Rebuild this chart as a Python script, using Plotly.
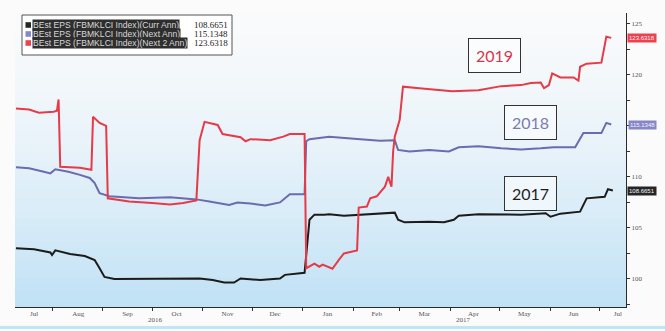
import plotly.graph_objects as go

# ---------------- data ----------------
red_dates = ["2016-07-10", "2016-07-18", "2016-07-24", "2016-08-02", "2016-08-04", "2016-08-05",
             "2016-08-06", "2016-08-18", "2016-08-25", "2016-08-26", "2016-08-30", "2016-09-03",
             "2016-09-04", "2016-09-17", "2016-10-01", "2016-10-12", "2016-10-20", "2016-10-28",
             "2016-10-30", "2016-11-02", "2016-11-10", "2016-11-13", "2016-11-24", "2016-11-27",
             "2016-11-30", "2016-12-12", "2016-12-20", "2016-12-24", "2017-01-02", "2017-01-03",
             "2017-01-08", "2017-01-11", "2017-01-13", "2017-01-19", "2017-01-23", "2017-01-26",
             "2017-02-03", "2017-02-04", "2017-02-09", "2017-02-11", "2017-02-15", "2017-02-20",
             "2017-02-22", "2017-02-24", "2017-02-25", "2017-02-26", "2017-03-01", "2017-03-03",
             "2017-03-13", "2017-03-25", "2017-04-02", "2017-04-18", "2017-05-02", "2017-05-14",
             "2017-05-20", "2017-05-26", "2017-05-28", "2017-05-31", "2017-06-02", "2017-06-07",
             "2017-06-15", "2017-06-18", "2017-06-19", "2017-06-23", "2017-07-02", "2017-07-04",
             "2017-07-05", "2017-07-08"]
red_vals = [116.7, 116.6, 116.3, 116.4, 116.5, 117.6,
            111.0, 110.9, 110.7, 115.9, 115.3, 115.0,
            107.9, 107.6, 107.45, 107.3, 107.45, 107.7,
            113.6, 115.4, 115.1, 114.2, 113.9, 113.5,
            113.7, 113.6, 113.95, 114.2, 114.2, 101.05,
            101.5, 101.2, 101.4, 101.0, 101.9, 102.5,
            102.8, 107.0, 107.1, 107.9, 108.1, 109.05,
            110.0, 109.05, 112.5, 113.95, 115.6, 118.85,
            118.7, 118.5, 118.4, 118.5, 118.9, 119.0,
            119.2, 119.25, 118.7, 119.0, 120.15, 119.75,
            119.75, 119.45, 120.8, 121.1, 121.2, 122.9,
            123.75, 123.6318]

purple_dates = ["2016-07-10", "2016-07-18", "2016-07-27", "2016-07-31", "2016-08-03", "2016-08-11",
                "2016-08-18", "2016-08-24", "2016-08-27", "2016-08-30", "2016-09-05", "2016-09-23",
                "2016-10-12", "2016-10-28", "2016-11-05", "2016-11-17", "2016-11-22", "2016-11-30",
                "2016-12-09", "2016-12-18", "2016-12-24", "2017-01-02", "2017-01-03", "2017-01-05",
                "2017-01-17", "2017-01-26", "2017-02-05", "2017-02-17", "2017-02-26", "2017-02-28",
                "2017-03-07", "2017-03-19", "2017-03-31", "2017-04-06", "2017-04-18", "2017-05-02",
                "2017-05-14", "2017-05-26", "2017-06-03", "2017-06-16", "2017-06-21", "2017-07-02",
                "2017-07-05", "2017-07-08"]
purple_vals = [110.95, 110.85, 110.5, 110.35, 110.75, 110.5,
               110.2, 109.9, 109.4, 108.4, 108.1, 107.9,
               108.0, 107.8, 107.6, 107.25, 107.5, 107.4,
               107.2, 107.5, 108.3, 108.3, 113.5, 113.7,
               113.95, 113.8, 113.7, 113.55, 113.6, 112.65,
               112.5, 112.65, 112.5, 112.9, 113.0, 112.8,
               112.7, 112.8, 112.9, 112.9, 114.3, 114.3,
               115.3, 115.1348]

black_dates = ["2016-07-10", "2016-07-21", "2016-07-31", "2016-08-01", "2016-08-03", "2016-08-12",
               "2016-08-21", "2016-08-27", "2016-08-30", "2016-09-02", "2016-09-08", "2016-09-23",
               "2016-10-12", "2016-10-30", "2016-11-07", "2016-11-14", "2016-11-20", "2016-11-24",
               "2016-12-06", "2016-12-18", "2016-12-21", "2016-12-30", "2017-01-02", "2017-01-05",
               "2017-01-08", "2017-01-14", "2017-01-17", "2017-01-26", "2017-02-05", "2017-02-17",
               "2017-02-26", "2017-02-28", "2017-03-04", "2017-03-19", "2017-03-28", "2017-04-03",
               "2017-04-06", "2017-04-18", "2017-05-02", "2017-05-14", "2017-05-29", "2017-06-01",
               "2017-06-07", "2017-06-19", "2017-06-23", "2017-07-04", "2017-07-06", "2017-07-09"]
black_vals = [103.0, 102.9, 102.6, 102.35, 102.8, 102.45,
              102.25, 101.85, 101.05, 100.2, 100.0, 100.0,
              100.05, 100.05, 99.9, 99.65, 99.65, 100.05,
              99.9, 100.05, 100.4, 100.55, 100.6, 105.8,
              106.3, 106.3, 106.35, 106.2, 106.3, 106.35,
              106.5, 105.8, 105.55, 105.6, 105.55, 105.8,
              106.2, 106.35, 106.3, 106.3, 106.45, 106.1,
              106.4, 106.6, 107.9, 108.05, 108.8, 108.6651]

series_names = ["BEst EPS (FBMKLCI Index)(Curr Ann)",
                "BEst EPS (FBMKLCI Index)(Next Ann)",
                "BEst EPS (FBMKLCI Index)(Next 2 Ann)"]
last_vals = [108.6651, 115.1348, 123.6318]
year_labels = ["2017", "2018", "2019"]

month_label_dates = ["2016-07-21", "2016-08-17", "2016-09-16", "2016-10-16", "2016-11-16",
                     "2016-12-15", "2017-01-16", "2017-02-15", "2017-03-16", "2017-04-15",
                     "2017-05-16", "2017-06-15", "2017-07-12"]
month_labels = ["Jul", "Aug", "Sep", "Oct", "Nov", "Dec", "Jan", "Feb", "Mar", "Apr",
                "May", "Jun", "Jul"]
month_starts = ["2016-08-01", "2016-09-01", "2016-10-01", "2016-11-01", "2016-12-01",
                "2017-01-01", "2017-02-01", "2017-03-01", "2017-04-01", "2017-05-01",
                "2017-06-01", "2017-07-01"]
y_ticks = [100, 105, 110, 115, 120, 125]
# the 115 label is hidden behind the value tag in the reference
y_ticktext = ["100", "105", "110", "", "120", "125"]

# ---------------- layout helpers ----------------
W, H = 665, 331
L, R, T, B = 15, 39, 13, 24
PW, PH = W - L - R, H - T - B


def px(x):
    return (x - L) / PW


def py(y):
    return (H - B - y) / PH


colors = ["#1b1b1b", "#6b6bb0", "#e63a48"]
tag_colors = ["#262626", "#8686c8", "#f0404e"]
text_colors = ["#1e1e1e", "#7b7bb0", "#d8344a"]

fig = go.Figure()
for d, v, c in [(black_dates, black_vals, colors[0]),
                (purple_dates, purple_vals, colors[1]),
                (red_dates, red_vals, colors[2])]:
    fig.add_trace(go.Scatter(x=d, y=v, mode="lines",
                             line=dict(color=c, width=2, shape="linear"),
                             showlegend=False, hoverinfo="skip"))

shapes = []
# gradient background of plot area
n = 40
top = (249, 250, 251)
bot = (192, 225, 245)
for i in range(n):
    t = (i + 0.5) / n
    w = t ** 1.5
    col = tuple(int(round(top[k] + (bot[k] - top[k]) * w)) for k in range(3))
    shapes.append(dict(type="rect", xref="paper", yref="paper", layer="below",
                       x0=0, x1=1, y0=1 - (i + 1) / n, y1=1 - i / n + 0.002,
                       fillcolor="rgb(%d,%d,%d)" % col, line=dict(width=0)))

# legend box
shapes.append(dict(type="rect", xref="paper", yref="paper",
                   x0=px(22), x1=px(232), y0=py(55), y1=py(15),
                   fillcolor="white", line=dict(color="#555", width=1)))
row_y = [25, 34, 43]
annotations = []
for i in range(3):
    shapes.append(dict(type="rect", xref="paper", yref="paper",
                       x0=px(25.5), x1=px(31), y0=py(row_y[i] + 2.8), y1=py(row_y[i] - 2.8),
                       fillcolor=tag_colors[i], line=dict(width=0)))
    annotations.append(dict(xref="paper", yref="paper", x=px(32), y=py(row_y[i]),
                            xanchor="left", yanchor="middle", showarrow=False,
                            text=series_names[i], bgcolor="#2e2e2e", borderpad=0,
                            font=dict(family="Liberation Sans, Arial",
                                      size=8.6, color="#d8d8d8")))
    annotations.append(dict(xref="paper", yref="paper", x=px(230), y=py(row_y[i]),
                            xanchor="right", yanchor="middle", showarrow=False,
                            text="%.4f" % last_vals[i],
                            font=dict(family="Liberation Serif, Times New Roman", size=9,
                                      color="#222")))
    # value tags on right axis
    annotations.append(dict(xref="paper", yref="y", x=px(642), y=last_vals[i],
                            xanchor="center", yanchor="middle", showarrow=False,
                            text="%.4f" % last_vals[i], bgcolor=tag_colors[i], borderpad=1,
                            font=dict(family="Liberation Sans", size=6, color="#f4f4f4")))

# year boxes
box_pos = [(530, 193.5), (530.5, 123), (495, 55)]
for i in range(3):
    annotations.append(dict(xref="paper", yref="paper", x=px(box_pos[i][0]), y=py(box_pos[i][1]),
                            xanchor="center", yanchor="middle", showarrow=False,
                            text=year_labels[i], bgcolor="rgba(255,255,255,0.55)",
                            bordercolor="#333", borderwidth=1, borderpad=7,
                            font=dict(family="Lato, Liberation Sans", size=16,
                                      color=text_colors[i])))

# year labels under x axis
for lab, xx, yy in [("2016", 155, 319.5), ("2017", 463, 320)]:
    annotations.append(dict(xref="paper", yref="paper", x=px(xx), y=py(yy),
                            xanchor="center", yanchor="middle", showarrow=False, text=lab,
                            font=dict(family="Liberation Serif", size=7, color="#555")))

# bottom cyan strip of the page
shapes.append(dict(type="rect", xref="paper", yref="paper", x0=px(0), x1=px(W),
                   y0=py(329), y1=py(326), fillcolor="#bfe6f6", line=dict(width=0)))

fig.update_layout(
    width=W, height=H,
    margin=dict(l=L, r=R, t=T, b=B),
    paper_bgcolor="#fbfbfb",
    plot_bgcolor="rgba(0,0,0,0)",
    shapes=shapes,
    annotations=annotations,
    xaxis=dict(type="date", range=["2016-07-09 10:00", "2017-07-17"],
               showgrid=False, zeroline=False, showline=True, linecolor="#2a2a2a",
               linewidth=1, tickmode="array", tickvals=month_label_dates,
               ticktext=month_labels, ticks="",
               tickfont=dict(family="Liberation Serif", size=7, color="#555"),
               minor=dict(tickmode="array", tickvals=month_starts, ticks="outside",
                          ticklen=3, tickcolor="#333", showgrid=False)),
    yaxis=dict(side="right", range=[97.25, 126.07], showgrid=False, zeroline=False,
               showline=True, linecolor="#2a2a2a", linewidth=1,
               tickmode="array", tickvals=y_ticks, ticktext=y_ticktext,
               ticks="outside", ticklen=3, tickcolor="#333",
               tickfont=dict(family="Liberation Serif", size=7, color="#555"),
               minor=dict(dtick=2.5, tick0=97.5, ticks="outside", ticklen=3,
                          tickcolor="#333", showgrid=False)),
)

fig.write_html("out.html")
